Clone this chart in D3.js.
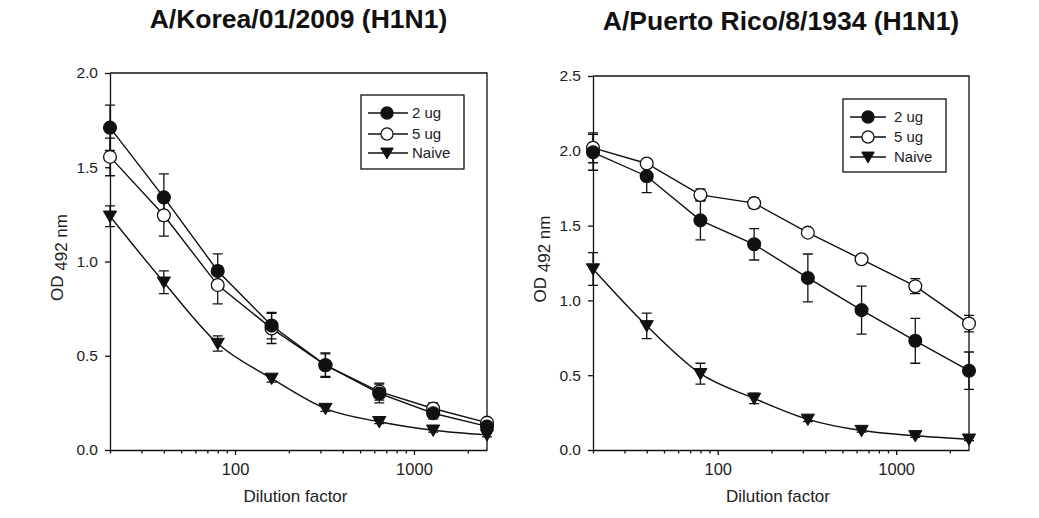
<!DOCTYPE html>
<html>
<head>
<meta charset="utf-8">
<script src="https://cdn.jsdelivr.net/npm/d3@7"></script>
<style>
  html, body { margin: 0; padding: 0; background: #fff; }
  svg { display: block; font-family: "Liberation Sans", Arial, sans-serif; }
</style>
</head>
<body>
<svg id="chart" width="1039" height="518"></svg>
<script>
// ---- data ----
const dilutions = [20, 40, 80, 160, 320, 640, 1280, 2560];
const seriesNames = ["2 ug", "5 ug", "Naive"];

// A/Korea/01/2009 (H1N1)
const korea2ug    = [1.71, 1.34, 0.95, 0.66, 0.45, 0.30, 0.195, 0.125];
const korea2ugErr = [0.12, 0.125, 0.09, 0.07, 0.06, 0.05, 0.03, 0.02];
const korea5ug    = [1.555, 1.245, 0.875, 0.645, 0.45, 0.31, 0.22, 0.145];
const korea5ugErr = [0.10, 0.11, 0.10, 0.08, 0.065, 0.045, 0.03, 0.02];
const koreaNaive    = [1.24, 0.89, 0.565, 0.38, 0.22, 0.15, 0.105, 0.08];
const koreaNaiveErr = [0.055, 0.06, 0.04, 0.02, 0.015, 0.01, 0.01, 0.01];

// A/Puerto Rico/8/1934 (H1N1)
const pr2ug    = [1.99, 1.83, 1.535, 1.375, 1.15, 0.935, 0.73, 0.53];
const pr2ugErr = [0.12, 0.11, 0.13, 0.105, 0.16, 0.16, 0.15, 0.125];
const pr5ug    = [2.02, 1.915, 1.705, 1.65, 1.453, 1.275, 1.095, 0.845];
const pr5ugErr = [0.10, 0.02, 0.04, 0.035, 0.02, 0.02, 0.05, 0.055];
const prNaive    = [1.21, 0.83, 0.51, 0.345, 0.205, 0.13, 0.095, 0.072];
const prNaiveErr = [0.11, 0.085, 0.07, 0.035, 0.015, 0.01, 0.01, 0.01];

const koreaYTicks = [0, 0.5, 1.0, 1.5, 2.0];
const prYTicks = [0, 0.5, 1.0, 1.5, 2.0, 2.5];
const xTickLabels = [100, 1000];
const xMinorTicks = [30, 40, 50, 60, 70, 80, 90, 200, 300, 400, 500, 600, 700, 800, 900, 2000];

const panels = [
  { title: "A/Korea/01/2009 (H1N1)", yMax: 2.0, yTicks: koreaYTicks,
    series: [
      { name: seriesNames[0], values: korea2ug, err: korea2ugErr, marker: "filled", curve: "linear" },
      { name: seriesNames[1], values: korea5ug, err: korea5ugErr, marker: "open", curve: "linear" },
      { name: seriesNames[2], values: koreaNaive, err: koreaNaiveErr, marker: "tri", curve: "smooth" }
    ],
    box: { x0: 110, x1: 487, y0: 73, y1: 450 }, titleY: 28,
    legend: { x: 361, y: 95, w: 103, h: 74, rows: [113, 134, 153], lx0: 368, lx1: 408, mx: 387, tx: 412 }
  },
  { title: "A/Puerto Rico/8/1934 (H1N1)", yMax: 2.5, yTicks: prYTicks,
    series: [
      { name: seriesNames[0], values: pr2ug, err: pr2ugErr, marker: "filled", curve: "linear" },
      { name: seriesNames[1], values: pr5ug, err: pr5ugErr, marker: "open", curve: "linear" },
      { name: seriesNames[2], values: prNaive, err: prNaiveErr, marker: "tri", curve: "smooth" }
    ],
    box: { x0: 593, x1: 969, y0: 76, y1: 450 }, titleY: 30,
    legend: { x: 843, y: 99, w: 103, h: 73, rows: [117, 137, 157], lx0: 850, lx1: 886, mx: 868, tx: 894 }
  }
];

const ink = "#111";
const svg = d3.select("#chart");

function drawMarker(g, type, x, y, scale) {
  const s = scale || 1;
  if (type === "tri") {
    const w = 6.6 * s, t = 5.2 * s, b = 6.2 * s;
    g.append("path")
      .attr("d", `M${x - w},${y - t}L${x + w},${y - t}L${x},${y + b}Z`)
      .attr("fill", ink).attr("stroke", ink).attr("stroke-width", 1);
  } else {
    g.append("circle")
      .attr("cx", x).attr("cy", y).attr("r", 6.4 * s)
      .attr("fill", type === "filled" ? ink : "#fff")
      .attr("stroke", ink).attr("stroke-width", 1.3);
  }
}

panels.forEach(p => {
  const b = p.box;
  const x = d3.scaleLog().domain([20, 2560]).range([b.x0, b.x1]);
  const y = d3.scaleLinear().domain([0, p.yMax]).range([b.y1, b.y0]);
  const g = svg.append("g");

  // title
  g.append("text")
    .attr("x", (b.x0 + b.x1) / 2).attr("y", p.titleY)
    .attr("text-anchor", "middle")
    .attr("font-size", 26.5).attr("font-weight", "bold").attr("fill", ink)
    .text(p.title);

  // frame (top and right)
  g.append("path")
    .attr("d", `M${b.x0},${b.y0}H${b.x1}V${b.y1}`)
    .attr("fill", "none").attr("stroke", ink).attr("stroke-width", 1.3);

  // x axis
  const xAxis = d3.axisBottom(x).tickValues(xTickLabels)
    .tickFormat(d3.format("d")).tickSize(5).tickPadding(8).tickSizeOuter(0);
  const gx = g.append("g").attr("transform", `translate(0,${b.y1})`).call(xAxis);
  gx.select(".domain").attr("stroke", ink).attr("stroke-width", 1.3);
  gx.selectAll(".tick line").attr("stroke", ink).attr("stroke-width", 1.3);
  gx.selectAll(".tick text").attr("font-size", 16.5).attr("fill", "#222")
    .attr("font-family", "'Liberation Sans', Arial, sans-serif");
  const gxm = g.append("g").attr("transform", `translate(0,${b.y1})`)
    .call(d3.axisBottom(x).tickValues([20].concat(xMinorTicks)).tickSize(3.5).tickFormat(""));
  gxm.select(".domain").remove();
  gxm.selectAll(".tick line").attr("stroke", ink).attr("stroke-width", 1.3);

  // y axis
  const yAxis = d3.axisLeft(y).tickValues(p.yTicks).tickFormat(d3.format(".1f"))
    .tickSize(5).tickPadding(7).tickSizeOuter(0);
  const gy = g.append("g").attr("transform", `translate(${b.x0},0)`).call(yAxis);
  gy.select(".domain").attr("stroke", ink).attr("stroke-width", 1.3);
  gy.selectAll(".tick line").attr("stroke", ink).attr("stroke-width", 1.3);
  gy.selectAll(".tick text").attr("font-size", 15.5).attr("fill", "#222")
    .attr("font-family", "'Liberation Sans', Arial, sans-serif");

  // axis titles
  g.append("text")
    .attr("x", (b.x0 + b.x1) / 2 - 3).attr("y", b.y1 + 52)
    .attr("text-anchor", "middle").attr("font-size", 17).attr("fill", "#222")
    .text("Dilution factor");
  const yl = g.append("text")
    .attr("transform", `translate(${b.x0 - 47},${(b.y0 + b.y1) / 2 - 4}) rotate(-90)`)
    .attr("text-anchor", "middle").attr("font-size", 17).attr("fill", "#222");
  yl.append("tspan").text("OD");
  yl.append("tspan").attr("dy", 4).text(" 492 nm");

  // lines
  p.series.forEach(s => {
    const pts = dilutions.map((d, i) => [x(d), y(s.values[i])]);
    const line = d3.line().curve(s.curve === "smooth" ? d3.curveMonotoneX : d3.curveLinear);
    g.append("path").attr("d", line(pts))
      .attr("fill", "none").attr("stroke", ink).attr("stroke-width", 1.4);
  });

  // error bars
  p.series.forEach(s => {
    dilutions.forEach((d, i) => {
      const cx = x(d), top = y(s.values[i] + s.err[i]), bot = y(s.values[i] - s.err[i]);
      g.append("path")
        .attr("d", `M${cx},${top}V${bot}M${cx - 5},${top}H${cx + 5}M${cx - 5},${bot}H${cx + 5}`)
        .attr("fill", "none").attr("stroke", ink).attr("stroke-width", 1.3);
    });
  });

  // markers (naive first, then 5 ug, then 2 ug on top)
  [2, 1, 0].forEach(k => {
    const s = p.series[k];
    dilutions.forEach((d, i) => drawMarker(g, s.marker, x(d), y(s.values[i])));
  });

  // legend
  const L = p.legend;
  g.append("rect").attr("x", L.x).attr("y", L.y).attr("width", L.w).attr("height", L.h)
    .attr("fill", "#fff").attr("stroke", ink).attr("stroke-width", 1.3);
  p.series.forEach((s, k) => {
    const ry = L.rows[k];
    g.append("line").attr("x1", L.lx0).attr("x2", L.lx1).attr("y1", ry).attr("y2", ry)
      .attr("stroke", ink).attr("stroke-width", 1.4);
    drawMarker(g, s.marker, L.mx, ry, 0.95);
    g.append("text").attr("x", L.tx).attr("y", ry + 5)
      .attr("font-size", 15).attr("fill", "#222").text(s.name);
  });
});
</script>
</body>
</html>
